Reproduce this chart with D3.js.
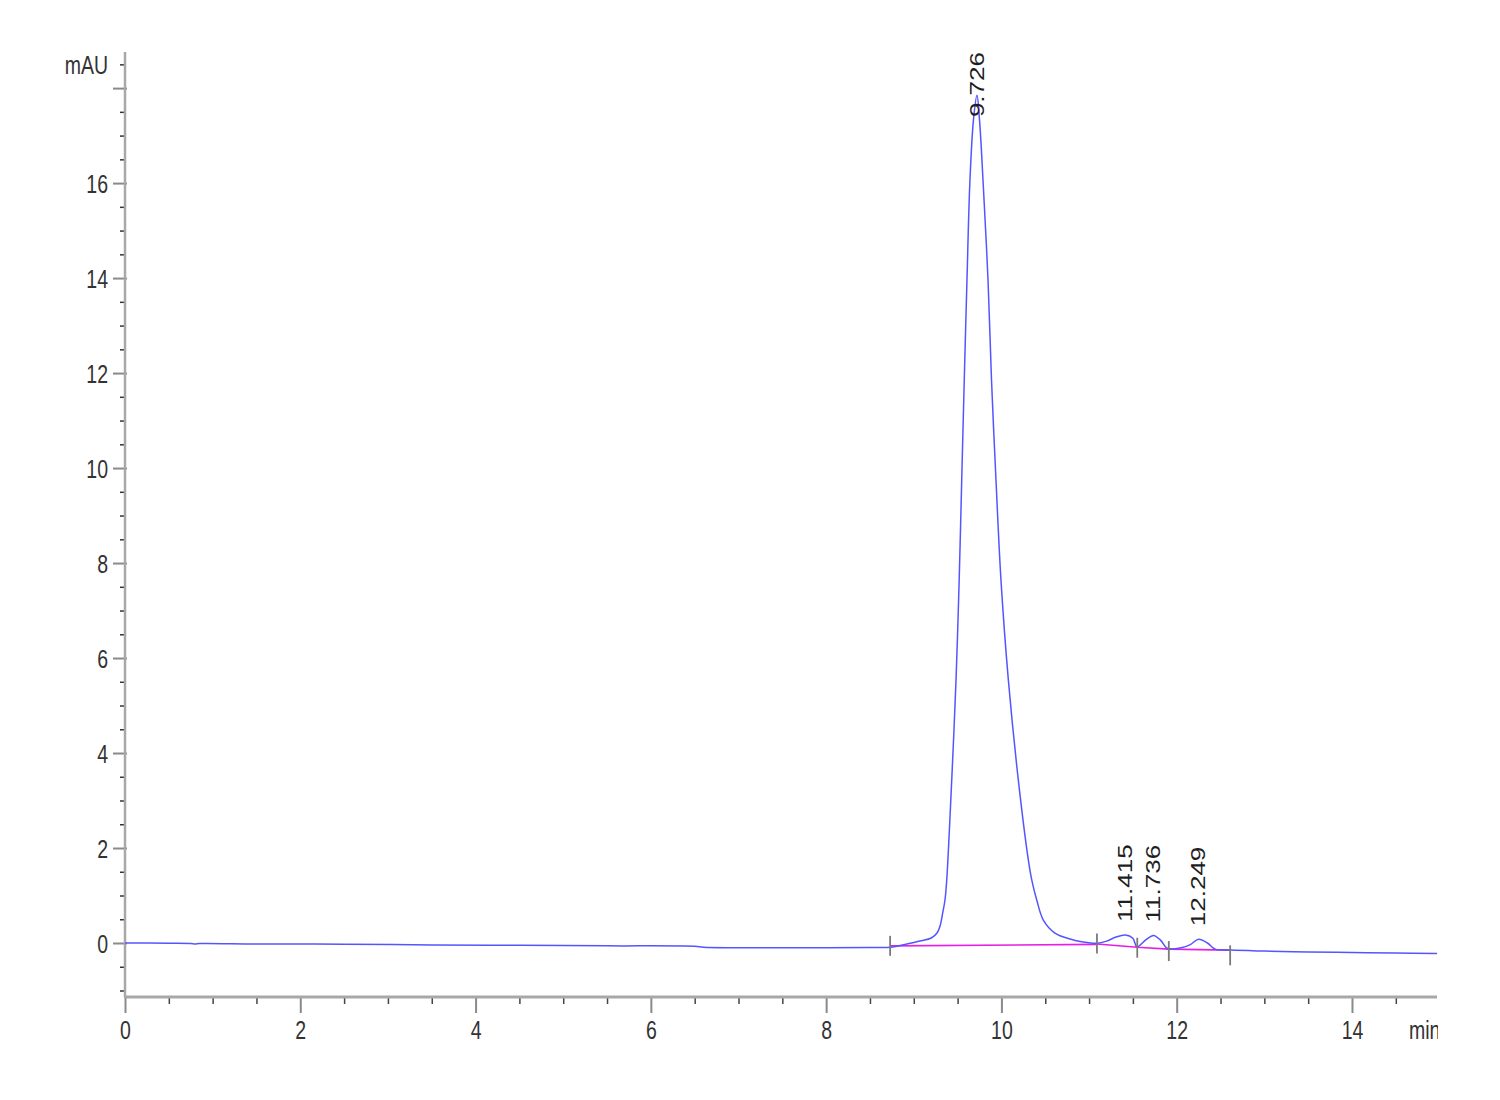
<!DOCTYPE html>
<html>
<head>
<meta charset="utf-8">
<script src="https://cdn.jsdelivr.net/npm/d3@7"></script>
<style>
  html, body { margin: 0; padding: 0; background: #fff; }
  svg { display: block; }
  text { font-family: "Liberation Sans", Arial, sans-serif; }
</style>
</head>
<body>
<svg id="chart" width="1500" height="1100"></svg>
<script>
// ---- Data ----
const signalTime = [
  0, 0.5, 0.75, 0.8, 0.85, 1.5, 2.5, 3.5, 4.5, 5.5, 6.5, 6.6, 7, 8, 8.5, 8.76,
  8.92, 9.07, 9.2, 9.265, 9.3, 9.33, 9.356, 9.376, 9.433, 9.482, 9.518, 9.547, 9.576, 9.607, 9.641, 9.681,
  9.721,
  9.75, 9.79, 9.847, 9.887, 9.938, 9.995, 10.079, 10.193, 10.307, 10.346, 10.403, 10.478, 10.611, 10.783, 10.931,
  11.09, 11.2, 11.3, 11.415, 11.5, 11.546, 11.65, 11.736, 11.82, 11.89,
  12.05, 12.15, 12.249, 12.35, 12.44, 12.62, 13, 13.5, 14, 14.5, 14.97
];
const signalValue = [
  0, -0.005, -0.01, -0.02, -0.01, -0.02, -0.025, -0.04, -0.05, -0.06, -0.07, -0.09, -0.1, -0.1, -0.095, -0.084,
  -0.021, 0.042, 0.105, 0.21, 0.358, 0.632, 0.905, 1.326, 3.43, 5.54, 7.64, 9.75, 11.85, 13.96, 16.06, 17.33,
  17.85,
  17.33, 16.06, 13.96, 11.85, 9.75, 7.64, 5.54, 3.43, 1.75, 1.33, 0.905, 0.484, 0.21, 0.084, 0.021,
  -0.007, 0.04, 0.12, 0.17, 0.1, -0.08, 0.07, 0.16, 0.05, -0.11,
  -0.1, -0.04, 0.08, 0.0, -0.13, -0.15, -0.17, -0.19, -0.2, -0.21, -0.22
];

// integration baselines (start time, start value, end time, end value)
const baseStartTime = [8.73, 11.09, 11.55, 11.91];
const baseStartValue = [-0.06, -0.02, -0.09, -0.13];
const baseEndTime = [11.09, 11.55, 11.91, 12.61];
const baseEndValue = [-0.03, -0.09, -0.13, -0.15];

// integration event marks
const eventTime = [8.73, 11.09, 11.55, 11.91, 12.61];
const eventValue = [-0.06, -0.01, -0.1, -0.17, -0.26];

// peak retention times and apex heights
const peakTime = [9.726, 11.415, 11.736, 12.249];
const peakHeight = [17.85, 0.17, 0.16, 0.08];
const peakLabel = ["9.726", "11.415", "11.736", "12.249"];

// axes
const xMajorTicks = [0, 2, 4, 6, 8, 10, 12, 14];
const xMinorTicks = d3.range(0.5, 14.6, 0.5).filter(d => d % 2 !== 0);
const yMajorTicks = [0, 2, 4, 6, 8, 10, 12, 14, 16, 18];
const yMajorLabels = ["0", "2", "4", "6", "8", "10", "12", "14", "16", ""];
const yMinorTicks = d3.range(-1, 18.6, 0.5).filter(d => d % 2 !== 0);
const xUnit = "min";
const yUnit = "mAU";

// ---- Drawing ----
const svg = d3.select("#chart");
const x = d3.scaleLinear().domain([0, 14.97]).range([125, 1437]);
const y = d3.scaleLinear().domain([-1.137, 18.76]).range([997, 52]);
const SX = 0.75;     // horizontal compression of the original lettering
const FS = 26;

svg.append("defs").append("clipPath").attr("id", "edge")
  .append("rect");

// Y axis
const yAxisMinor = svg.append("g").attr("transform", `translate(${x(0)},0)`)
  .call(d3.axisLeft(y).tickValues(yMinorTicks).tickSize(5).tickFormat(""));
yAxisMinor.select(".domain").remove();
yAxisMinor.selectAll("line").attr("stroke", "#333").attr("stroke-width", 1.5);

const yAxisMajor = svg.append("g").attr("transform", `translate(${x(0)},0)`)
  .call(d3.axisLeft(y).tickValues(yMajorTicks).tickSize(12)
    .tickFormat((d, i) => yMajorLabels[i]));
yAxisMajor.select(".domain").remove();
yAxisMajor.selectAll("line").attr("stroke", "#8a8a8a").attr("stroke-width", 2).attr("x2", -12).attr("x1", 2);
yAxisMajor.selectAll("text")
  .attr("x", null).attr("dy", "0.35em")
  .attr("transform", `translate(-17,0) scale(${SX},1)`)
  .attr("font-size", FS).attr("fill", "#333").attr("text-anchor", "end");

// X axis
const xAxisMinor = svg.append("g").attr("transform", `translate(0,${y.range()[0]})`)
  .call(d3.axisBottom(x).tickValues(xMinorTicks).tickSize(7).tickFormat(""));
xAxisMinor.select(".domain").remove();
xAxisMinor.selectAll("line").attr("stroke", "#444").attr("stroke-width", 1.5);

const xAxisMajor = svg.append("g").attr("transform", `translate(0,${y.range()[0]})`)
  .call(d3.axisBottom(x).tickValues(xMajorTicks).tickSize(16).tickFormat(d3.format("d")));
xAxisMajor.select(".domain").remove();
xAxisMajor.selectAll("line").attr("stroke", "#8a8a8a").attr("stroke-width", 2);
xAxisMajor.selectAll("text")
  .attr("y", null).attr("dy", null)
  .attr("transform", `translate(0,42) scale(${SX},1)`)
  .attr("font-size", FS).attr("fill", "#333").attr("text-anchor", "middle");

// axis lines
svg.append("line").attr("x1", x(0)).attr("x2", x(0)).attr("y1", y.range()[1]).attr("y2", y.range()[0])
  .attr("stroke", "#a8a8a8").attr("stroke-width", 2.5);
svg.append("line").attr("x1", x(0) - 1).attr("x2", x.range()[1]).attr("y1", y.range()[0]).attr("y2", y.range()[0])
  .attr("stroke", "#a8a8a8").attr("stroke-width", 3);

// axis unit labels
svg.append("text").text(yUnit)
  .attr("transform", `translate(108,${y(18.76) + 22}) scale(${SX},1)`)
  .attr("text-anchor", "end").attr("font-size", FS).attr("fill", "#333");
svg.append("text").text(xUnit)
  .attr("clip-path", "url(#edge)")
  .attr("transform", `translate(1409,${y.range()[0] + 42}) scale(${SX},1)`)
  .attr("text-anchor", "start").attr("font-size", FS).attr("fill", "#333");
svg.select("defs clipPath rect").attr("width", (1438 - 1409) / SX).attr("x", 0).attr("y", -40).attr("height", 80);

// integration baselines (magenta)
const baseLine = d3.line().x(d => x(d[0])).y(d => y(d[1]));
baseStartTime.forEach((t, i) => {
  svg.append("path")
    .attr("d", baseLine([[t, baseStartValue[i]], [baseEndTime[i], baseEndValue[i]]]))
    .attr("fill", "none").attr("stroke", "#e61ee6").attr("stroke-width", 1.6);
});

// signal trace
const signal = signalTime.map((t, i) => [t, signalValue[i]]);
svg.append("path")
  .datum(signal)
  .attr("d", d3.line().x(d => x(d[0])).y(d => y(d[1])).curve(d3.curveCatmullRom.alpha(0.5)))
  .attr("fill", "none").attr("stroke", "#5555ff").attr("stroke-width", 1.5);

// integration event marks
eventTime.forEach((t, i) => {
  svg.append("line")
    .attr("x1", x(t)).attr("x2", x(t))
    .attr("y1", y(eventValue[i]) - 10).attr("y2", y(eventValue[i]) + 10)
    .attr("stroke", "#7a7a7a").attr("stroke-width", 1.8);
});

// peak labels (rotated)
const topY = y.range()[1];
peakTime.forEach((t, i) => {
  const txt = svg.append("text").text(peakLabel[i])
    .attr("font-size", FS).attr("fill", "#1e1e1e").attr("dy", "0.35em")
    .attr("text-anchor", "start");
  const len = txt.node().getComputedTextLength();
  const bottom = Math.max(y(peakHeight[i]) - 13, topY + len);
  txt.attr("transform", `translate(${x(t)},${bottom}) scale(${SX},1) rotate(-90)`);
});
</script>
</body>
</html>
